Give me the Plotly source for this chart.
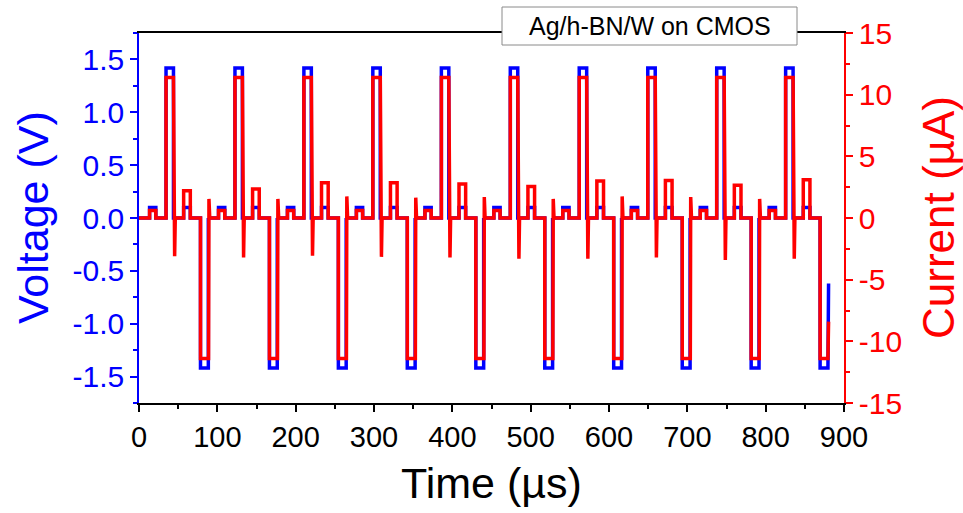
import plotly.graph_objects as go

# ---------------- data ----------------
# start time of each programming cycle (µs)
cycle_start_us = [0, 88, 176, 264, 351.5, 439.5, 527.5, 615, 703, 791]

# timing of the pulses inside one cycle (µs, relative to cycle start)
read1_window_us = [13.5, 21.5]
set_window_us = [34.5, 44.0]
read2_window_us = [57.0, 65.5]
reset_window_us = [78.5, 88.5]
set_spike_offset_us = 45.5
reset_spike_offset_us = 89.3

# voltage levels (V)
read_voltage_V = 0.1
set_voltage_V = 1.42
reset_voltage_V = -1.42

# current levels per cycle (µA)
read1_current_uA = [0.6, 0.6, 0.6, 0.6, 0.6, 0.6, 0.6, 0.6, 0.6, 0.6]
set_current_uA = [11.4, 11.4, 11.4, 11.4, 11.4, 11.4, 11.4, 11.4, 11.4, 11.4]
reset_current_uA = [-11.4, -11.4, -11.4, -11.4, -11.4, -11.4, -11.4, -11.4, -11.4, -11.4]
read2_current_uA = [2.2, 2.35, 2.85, 2.85, 2.75, 2.55, 3.0, 3.05, 2.65, 3.1]
set_spike_uA = [-3.1, -3.2, -3.05, -3.15, -3.2, -3.3, -3.3, -3.2, -3.4, -3.3]
reset_spike_uA = [1.55, 1.55, 1.75, 1.65, 1.7, 1.55, 1.75, 1.7, 1.55]

# last recorded sample
end_time_us = 880.3
end_voltage_V = -0.62
end_current_uA = -8.4

# axis tick labels
time_ticks = [0, 100, 200, 300, 400, 500, 600, 700, 800, 900]
voltage_ticks = [-1.5, -1.0, -0.5, 0.0, 0.5, 1.0, 1.5]
voltage_tick_labels = ["-1.5", "-1.0", "-0.5", "0.0", "0.5", "1.0", "1.5"]
current_ticks = [-15, -10, -5, 0, 5, 10, 15]
current_tick_labels = ["-15", "-10", "-5", "0", "5", "10", "15"]

# ---------------- build step waveforms ----------------
tv, vv, ti, ii = [], [], [], []
n = len(cycle_start_us)
for k, t0 in enumerate(cycle_start_us):
    last = (k == n - 1)
    r1a, r1b = t0 + read1_window_us[0], t0 + read1_window_us[1]
    sa, sb = t0 + set_window_us[0], t0 + set_window_us[1]
    r2a, r2b = t0 + read2_window_us[0], t0 + read2_window_us[1]
    ra, rb = t0 + reset_window_us[0], t0 + reset_window_us[1]
    # voltage
    tv += [t0, r1a, r1a, r1b, r1b, sa, sa, sb, sb, r2a, r2a, r2b, r2b, ra, ra, rb]
    vv += [0, 0, read_voltage_V, read_voltage_V, 0, 0, set_voltage_V, set_voltage_V, 0,
           0, read_voltage_V, read_voltage_V, 0, 0, reset_voltage_V, reset_voltage_V]
    # current
    ss = t0 + set_spike_offset_us
    ti += [t0, r1a, r1a, r1b, r1b, sa, sa, sb, ss, ss + 0.8, r2a, r2a, r2b, r2b, ra, ra]
    ii += [0, 0, read1_current_uA[k], read1_current_uA[k], 0, 0, set_current_uA[k],
           set_current_uA[k], set_spike_uA[k], 0, 0, read2_current_uA[k],
           read2_current_uA[k], 0, 0, reset_current_uA[k]]
    if last:
        tv += [end_time_us]
        vv += [end_voltage_V]
        ti += [rb, end_time_us]
        ii += [reset_current_uA[k], end_current_uA]
    else:
        rs = t0 + reset_spike_offset_us
        tv += [rb]
        vv += [0]
        ti += [rb + 0.3, rs, rs + 1.0]
        ii += [reset_current_uA[k], reset_spike_uA[k], 0]

FONT = "Arial, Liberation Sans, sans-serif"
BLUE = "#0000FF"
RED = "#FF0000"

fig = go.Figure()
fig.add_trace(go.Scatter(x=tv, y=vv, mode="lines", line=dict(color=BLUE, width=3.5),
                         yaxis="y", showlegend=False, hoverinfo="skip"))
fig.add_trace(go.Scatter(x=ti, y=ii, mode="lines", line=dict(color=RED, width=3.5),
                         yaxis="y2", showlegend=False, hoverinfo="skip"))

W, H = 963, 513
L, R, T, B = 139, 119, 33, 110
pw, ph = W - L - R, H - T - B


def px(x):
    return (x - L) / pw


def py(y):
    return (H - B - y) / ph


fig.update_layout(
    width=W, height=H,
    margin=dict(l=L, r=R, t=T, b=B, pad=0),
    paper_bgcolor="white", plot_bgcolor="white",
    font=dict(family=FONT),
    xaxis=dict(
        range=[0, 900], tickvals=time_ticks, ticks="outside", ticklen=7, tickwidth=1.5,
        tickcolor="black", showline=True, linecolor="black", linewidth=1.5, mirror=True,
        showgrid=False, zeroline=False,
        tickfont=dict(family=FONT, size=29, color="black"),
        minor=dict(ticks="outside", ticklen=4, dtick=50, tick0=0, tickcolor="black", tickwidth=1.5),
    ),
    yaxis=dict(
        range=[-1.75, 1.75], tickvals=voltage_ticks, ticktext=voltage_tick_labels,
        ticks="outside", ticklen=7, tickwidth=1.5, tickcolor=BLUE,
        showline=True, linecolor=BLUE, linewidth=1.5, showgrid=False, zeroline=False,
        tickfont=dict(family=FONT, size=30, color=BLUE),
        minor=dict(ticks="outside", ticklen=4, dtick=0.25, tick0=0, tickcolor=BLUE, tickwidth=1.5),
    ),
    yaxis2=dict(
        range=[-15, 15], tickvals=current_ticks, ticktext=current_tick_labels,
        overlaying="y", side="right", anchor="x",
        ticks="outside", ticklen=7, tickwidth=1.5, tickcolor=RED,
        showline=True, linecolor=RED, linewidth=1.5, showgrid=False, zeroline=False,
        tickfont=dict(family=FONT, size=30, color=RED),
        minor=dict(ticks="outside", ticklen=4, dtick=2.5, tick0=0, tickcolor=RED, tickwidth=1.5),
    ),
    shapes=[
        dict(type="rect", xref="paper", yref="paper",
             x0=px(502), x1=px(797), y0=py(45), y1=py(7),
             fillcolor="white", line=dict(color="#8a8a8a", width=1), layer="above"),
    ],
    annotations=[
        dict(text="Ag/h-BN/W on CMOS", xref="paper", yref="paper",
             x=px(649.5), y=py(26), xanchor="center", yanchor="middle",
             showarrow=False, font=dict(family=FONT, size=25, color="black")),
        dict(text="Voltage (V)", xref="paper", yref="paper",
             x=px(33), y=0.5, xanchor="center", yanchor="middle", textangle=-90,
             showarrow=False, font=dict(family=FONT, size=43, color=BLUE)),
        dict(text="Current (µA)", xref="paper", yref="paper",
             x=px(938), y=0.5, xanchor="center", yanchor="middle", textangle=-90,
             showarrow=False, font=dict(family=FONT, size=44, color=RED)),
        dict(text="Time (µs)", xref="paper", yref="paper",
             x=0.5, y=py(483), xanchor="center", yanchor="middle",
             showarrow=False, font=dict(family=FONT, size=43, color="black")),
    ],
)

fig.write_html("out.html", config={"displayModeBar": False})
